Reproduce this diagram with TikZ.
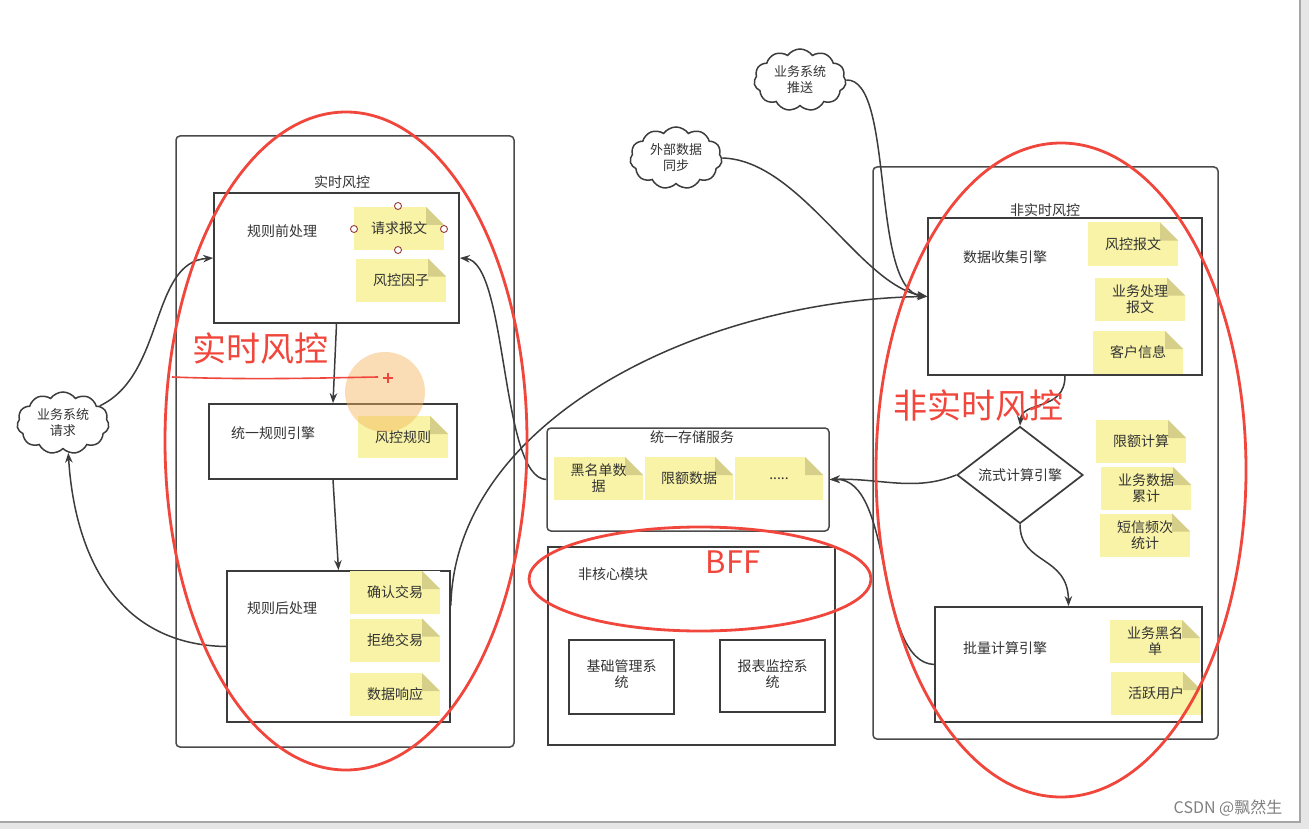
\documentclass[tikz,border=0pt]{standalone}
\usepackage{fontspec}
\setmainfont{Noto Sans CJK SC}
\usetikzlibrary{shapes.geometric,shapes.symbols,arrows.meta}
\definecolor{linec}{HTML}{3C3C3C}
\definecolor{outerc}{HTML}{4A4A4A}
\definecolor{txt}{HTML}{333333}
\definecolor{notey}{HTML}{F8F3A6}
\definecolor{foldc}{HTML}{D6CF8A}
\definecolor{redc}{HTML}{F0463C}
\definecolor{handc}{HTML}{9A3B3B}
\definecolor{orangec}{HTML}{F5B55C}
\definecolor{bgc}{HTML}{E6E6E6}
\tikzset{
  f13/.style={font=\fontsize{13}{16}\selectfont},
  f14/.style={font=\fontsize{14}{16}\selectfont},
  outerbox/.style={draw=outerc, line width=1.5pt, rounded corners=4pt, inner sep=0pt},
  innerbox/.style={draw=linec, line width=1.7pt, inner sep=0pt},
  lbl/.style={f14, text=txt, inner sep=0pt, align=center},
  note/.style={fill=notey, minimum width=90pt, minimum height=43pt, inner sep=1pt, align=center, f14, text=txt,
    path picture={
      \fill[white] ([xshift=-18pt]path picture bounding box.north east) -- (path picture bounding box.north east) -- ([yshift=-18pt]path picture bounding box.north east) -- cycle;
      \fill[foldc] ([xshift=-18pt]path picture bounding box.north east) -- ([xshift=-18pt,yshift=-18pt]path picture bounding box.north east) -- ([yshift=-18pt]path picture bounding box.north east) -- cycle;}},
  cloudnode/.style={cloud, cloud puffs=11, cloud puff arc=110, cloud ignores aspect, draw=linec, line width=1.5pt, fill=white,
    minimum width=92pt, minimum height=62pt, inner sep=0pt, align=center, f13, text=txt},
  arr/.style={draw=linec, line width=1.5pt, -{Stealth[length=10pt,width=7.5pt]}},
  redline/.style={draw=redc, line width=2.8pt},
  redtxt/.style={text=redc, inner sep=0pt},
  handle/.style={circle, draw=handc, fill=white, line width=0.9pt, minimum size=7pt, inner sep=0pt}
}
\begin{document}
\begin{tikzpicture}[x=1pt,y=-1pt]
\useasboundingbox (0,0) rectangle (1309,829);
\fill[bgc] (0,0) rectangle (1309,829);
\fill[white] (0,0) rectangle (1300,822);
\draw[gray!70, line width=1.2pt] (1300,0) -- (1300,822) -- (0,822);

% ---------- left: 实时风控 ----------
\node[outerbox, minimum width=338pt, minimum height=611pt] (rt) at (345,441.5) {};
\node[lbl] (rtt) at (342,182) {实时风控};

\node[innerbox, minimum width=245pt, minimum height=130pt] (pre) at (336.5,258) {};
\node[lbl] (prel) at (282,231) {规则前处理};
\node[note] (n1) at (399,228.5) {请求报文};
\node[note] (n2) at (401,280) {风控因子};
\node[handle] (h1) at (398,206) {};
\node[handle] (h2) at (354,229) {};
\node[handle] (h3) at (444,229) {};
\node[handle] (h4) at (398,250) {};

\node[innerbox, minimum width=248pt, minimum height=75pt] (rule) at (333,441.5) {};
\node[lbl] (rulel) at (273,433) {统一规则引擎};
\node[note, minimum height=42pt] (n3) at (403,437) {风控规则};

\node[innerbox, minimum width=223pt, minimum height=151pt] (post) at (338.5,646.5) {};
\node[lbl] (postl) at (282,608) {规则后处理};
\node[note] (n4) at (395,592.5) {确认交易};
\node[note] (n5) at (395,640) {拒绝交易};
\node[note] (n6) at (395,694.5) {数据响应};

% ---------- middle ----------
\node[outerbox, minimum width=282pt, minimum height=103pt] (store) at (688,479.5) {};
\node[lbl] (storel) at (692,437) {统一存储服务};
\node[note, minimum width=89pt] (s1) at (598.5,478.5) {黑名单数\\据};
\node[note, minimum width=88pt] (s2) at (689,478.5) {限额数据};
\node[note, minimum width=88pt] (s3) at (779,478.5) {.....};

\node[innerbox, line width=1.5pt, minimum width=287pt, minimum height=198pt] (ncore) at (691.5,646) {};
\node[lbl] (ncorel) at (613,574) {非核心模块};
\node[innerbox, minimum width=105pt, minimum height=74pt] (base) at (621.5,677) {};
\node[lbl] (basel) at (621.5,674) {基础管理系\\统};
\node[innerbox, minimum width=105pt, minimum height=72pt] (rep) at (772.5,676) {};
\node[lbl] (repl) at (772.5,674) {报表监控系\\统};

% ---------- right: 非实时风控 ----------
\node[outerbox, minimum width=345pt, minimum height=572pt] (nrt) at (1045.5,453) {};
\node[lbl] (nrtt) at (1045,210) {非实时风控};

\node[innerbox, minimum width=274pt, minimum height=157pt] (collect) at (1065,296.5) {};
\node[lbl] (collectl) at (1005,257) {数据收集引擎};
\node[note] (r1) at (1133,244) {风控报文};
\node[note] (r2) at (1140,299) {业务处理\\报文};
\node[note] (r3) at (1138,352.5) {客户信息};

\node[diamond, draw=linec, line width=1.7pt, fill=white, minimum width=126pt, minimum height=86pt, inner sep=0pt, f14, text=txt] (stream) at (1020,475) {流式计算引擎};
\node[note] (r4) at (1141,441.5) {限额计算};
\node[note] (r5) at (1146,488.5) {业务数据\\累计};
\node[note] (r6) at (1145,535) {短信频次\\统计};

\node[innerbox, minimum width=267pt, minimum height=115pt] (batch) at (1068.5,664.5) {};
\node[lbl] (batchl) at (1005,648) {批量计算引擎};
\node[note] (r7) at (1155,641.5) {业务黑名\\单};
\node[note] (r8) at (1156,693.5) {活跃用户};

% ---------- clouds ----------
\node[cloudnode] (req) at (63,423) {业务系统\\请求};
\node[cloudnode] (ext) at (676,158) {外部数据\\同步};
\node[cloudnode] (push) at (800,80) {业务系统\\推送};

% ---------- connectors ----------
\draw[arr] (req.25) .. controls (165,375) and (150,262) .. (pre.west);
\draw[arr] (post.west) .. controls (120,645) and (75,560) .. (req.-80);
\draw[arr] (pre.south) -- (rule.north);
\draw[arr] (rule.south) -- (post.north);
\draw[arr] (store.west) .. controls (500,478) and (508,262) .. (pre.east);
\draw[arr] (post.20) .. controls (455,420) and (700,300) .. (collect.west);
\draw[arr] (ext.east) .. controls (800,160) and (860,285) .. (collect.west);
\draw[arr] (push.east) .. controls (895,78) and (870,290) .. (collect.west);
\draw[arr] (collect.south) .. controls (1065,412) and (1022,400) .. (stream.north);
\draw[arr] (stream.south) .. controls (1020,565) and (1068,555) .. (batch.north);
\draw[arr] (stream.west) .. controls (915,492) and (880,478) .. (store.east);
\draw[arr] (batch.west) .. controls (875,662) and (895,478) .. (store.east);

% ---------- annotations ----------
\fill[orangec, opacity=0.45] (385,392) circle [radius=40];
\draw[redline] (346,441) ellipse [x radius=181, y radius=329];
\draw[redline] (1061,470) ellipse [x radius=185, y radius=327];
\draw[redline] (700,579) ellipse [x radius=171, y radius=52];
\node[redtxt, font=\fontsize{34}{36}\selectfont] (rtred) at (260,348) {实时风控};
\node[redtxt, font=\fontsize{34}{36}\selectfont] (nrtred) at (978,405) {非实时风控};
\node[redtxt, font=\fontsize{31}{33}\selectfont] (bff) at (733,562) {BFF};
\draw[redc, line width=1.6pt] (172,377) .. controls (250,380) and (320,378) .. (378,377);
\draw[redc, line width=1.3pt] (383,378) -- (393,378) (388,373) -- (388,383);

\node[text=gray, font=\fontsize{16}{18}\selectfont, inner sep=0pt] (wm) at (1228,808) {CSDN @飘然生};
\end{tikzpicture}
\end{document}
